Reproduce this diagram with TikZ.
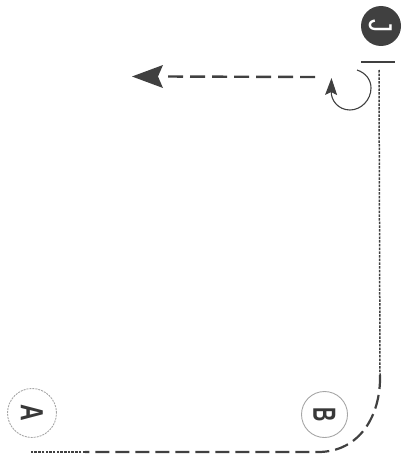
\documentclass[tikz,border=0pt]{standalone}
\usepackage{fontspec}
\setmainfont{Liberation Sans}
\usetikzlibrary{arrows.meta}
\tikzset{
  x=1pt,y=-1pt,
  ink/.style={draw=black!75,line cap=butt},
  ring/.style={circle,draw=black!35,line width=.9pt,inner sep=0pt,minimum size=#1,text=black!78,font=\fontsize{32}{32}\selectfont\bfseries},
  fineline/.style={ink,line width=1.5pt,dash pattern=on 2.5pt off 1.2pt},
  coarseline/.style={ink,line width=2.2pt,dash pattern=on 14pt off 6pt},
  solidline/.style={ink,line width=1.8pt},
  turn/.style={draw=black!75,line width=1.1pt}
}
\newcommand{\sideways}[2]{\rotatebox{-90}{\scalebox{#1}[1]{#2}}}
\begin{document}
\begin{tikzpicture}
\useasboundingbox (0,0) rectangle (409,460);
\node[ring=49pt,dash pattern=on 2pt off 1pt] (A) at (32,413) {\sideways{.72}{A}};
\node[ring=46pt] (B) at (324.5,414.5) {\sideways{.62}{B}};
\node[circle,fill=black!75,minimum size=40pt,inner sep=0pt,text=white,font=\fontsize{33}{33}\selectfont] (J) at (381,26) {\sideways{.8}{J}};
\coordinate (barL) at (361,62);
\coordinate (barR) at (395,62);
\draw[solidline] (barL) -- (barR);
\coordinate (vTop) at (379,70);
\coordinate (vEnd) at (380,375);
\coordinate (bEnd) at (318,452);
\coordinate (hMid) at (85,452);
\coordinate (hEnd) at (31,452);
\draw[fineline] (vTop) -- (vEnd);
\draw[coarseline] (vEnd) .. controls (381,415) and (360,452) .. (bEnd) -- (hMid);
\draw[fineline,line width=1.2pt] (hMid) -- (hEnd);
\coordinate (arrS) at (315,77);
\coordinate (arrT) at (162,76.5);
\coordinate (arrTip) at (132,76.5);
\draw[coarseline,line width=2.4pt,dash pattern=on 15pt off 7pt] (arrS) -- (arrT);
\fill[black!75] (arrTip) -- (163,65) -- (158,76.5) -- (163,88) -- cycle;
\coordinate (rotS) at (357,70);
\draw[turn,-{Stealth[length=17pt,width=12pt,inset=3pt]}] (rotS) .. controls (366,73) and (371,80) .. (371,88) .. controls (371,100) and (361,110) .. (350,110) .. controls (338,110) and (331,100) .. (331.5,78);
\end{tikzpicture}
\end{document}
